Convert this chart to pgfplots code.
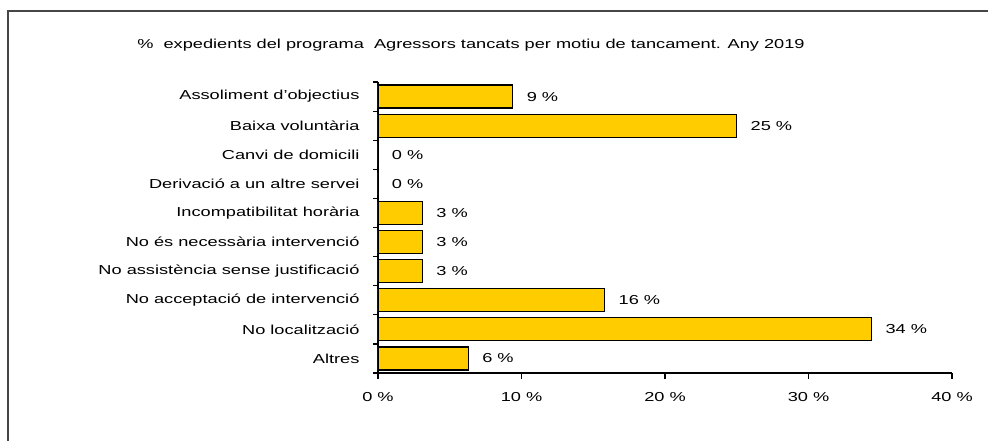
\documentclass[border=0pt]{standalone}
\usepackage{pgfplots}
\pgfplotsset{compat=1.18}
\usepackage{fontspec}
\setmainfont{Liberation Sans}[FakeStretch=1.4]
\definecolor{baryellow}{RGB}{255,204,0}
\definecolor{framegray}{RGB}{70,70,70}
\begin{document}
\fontsize{13bp}{15bp}\selectfont
\begin{tikzpicture}
\useasboundingbox (-378bp,-68bp) rectangle (610bp,373bp);
\draw[line width=1.6bp, framegray] (-370bp,-80bp) -- (-370bp,362bp) -- (620bp,362bp);
\node[font=\fontsize{13bp}{15bp}\selectfont] at (93bp,328bp) {\%\ \ expedients del programa \ Agressors tancats per motiu de tancament. Any 2019};
\begin{axis}[
  at={(0,0)}, anchor=south west,
  scale only axis, width=574bp, height=291bp,
  xmin=0, xmax=40, ymin=-0.5, ymax=9.5,
  axis x line*=bottom, axis y line*=left,
  axis line style={line width=1.2bp, black},
  xtick={0,10,20,30,40},
  xticklabels={0 \%,10 \%,20 \%,30 \%,40 \%},
  ytick={0,...,9},
  yticklabels={Altres,No localització,No acceptació de intervenció,No assistència sense justificació,No és necessària intervenció,Incompatibilitat horària,Derivació a un altre servei,Canvi de domicili,Baixa voluntària,Assoliment d'objectius},
  minor ytick={-0.5,0.5,...,9.5},
  major y tick style={draw=none},
  tick align=outside,
  major tick length=6bp, minor tick length=5bp,
  tick style={line width=1.2bp, black},
  ticklabel style={font=\fontsize{13bp}{15bp}\selectfont},
  yticklabel style={xshift=-8bp},
  xticklabel style={yshift=-9bp},
  xbar, bar width=23bp,
  point meta=x,
  nodes near coords={\pgfmathprintnumber[fixed,precision=0]{\pgfplotspointmeta}~\%},
  nodes near coords align=horizontal,
  every node near coord/.append style={font=\fontsize{13bp}{15bp}\selectfont, anchor=west, xshift=9bp, black},
  /pgf/number format/assume math mode=true,
]
\addplot[fill=baryellow, draw=black, line width=1.2bp] coordinates {
 (6.3,0) (34.4,1) (15.8,2) (3.1,3) (3.1,4) (3.1,5) (0,6) (0,7) (25.0,8) (9.4,9)
};
\end{axis}
\end{tikzpicture}
\end{document}
